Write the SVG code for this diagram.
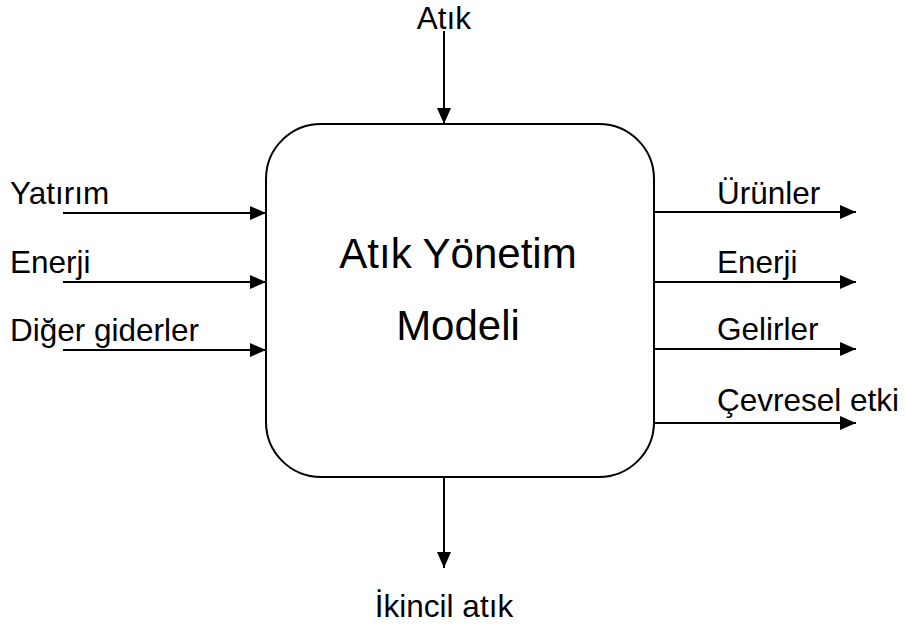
<svg xmlns="http://www.w3.org/2000/svg" width="905" height="628" viewBox="0 0 905 628">
<style>
text{font-family:"Liberation Sans",Arial,sans-serif;fill:#000}
.l{font-size:31.5px}
.c{font-size:42px}
.ln{stroke:#000;stroke-width:2;fill:none}
</style>
<defs>
<marker id="ah" viewBox="0 0 16 14" refX="16" refY="7" markerWidth="16" markerHeight="14" markerUnits="userSpaceOnUse" orient="auto">
<path d="M0,0 L16,7 L0,14 Z" fill="#000"/>
</marker>
</defs>
<rect width="905" height="628" fill="#fff"/>
<g id="model">
<rect x="266" y="124" width="388" height="353" rx="55" ry="55" fill="#fff" stroke="#000" stroke-width="2"/>
<text class="c" x="458" y="268" text-anchor="middle">Atık Yönetim</text>
<text class="c" x="458" y="340" text-anchor="middle">Modeli</text>
</g>
<g id="connectors">
<line class="ln" x1="444" y1="31" x2="444" y2="124" marker-end="url(#ah)"/>
<line class="ln" x1="444" y1="477" x2="444" y2="568" marker-end="url(#ah)"/>
<line class="ln" x1="63" y1="213" x2="266" y2="213" marker-end="url(#ah)"/>
<line class="ln" x1="63" y1="282" x2="266" y2="282" marker-end="url(#ah)"/>
<line class="ln" x1="63" y1="350" x2="266" y2="350" marker-end="url(#ah)"/>
<line class="ln" x1="654" y1="212" x2="856" y2="212" marker-end="url(#ah)"/>
<line class="ln" x1="654" y1="282" x2="856" y2="282" marker-end="url(#ah)"/>
<line class="ln" x1="654" y1="349" x2="856" y2="349" marker-end="url(#ah)"/>
<line class="ln" x1="654" y1="423" x2="856" y2="423" marker-end="url(#ah)"/>
</g>
<g id="labels">
<text class="l" x="444" y="29" text-anchor="middle">Atık</text>
<text class="l" x="444" y="617" text-anchor="middle">İkincil atık</text>
<text class="l" x="10" y="204">Yatırım</text>
<text class="l" x="10" y="273">Enerji</text>
<text class="l" x="10" y="341">Diğer giderler</text>
<text class="l" x="717" y="204">Ürünler</text>
<text class="l" x="717" y="273">Enerji</text>
<text class="l" x="717" y="340">Gelirler</text>
<text class="l" x="717" y="411">Çevresel etki</text>
</g>
</svg>
